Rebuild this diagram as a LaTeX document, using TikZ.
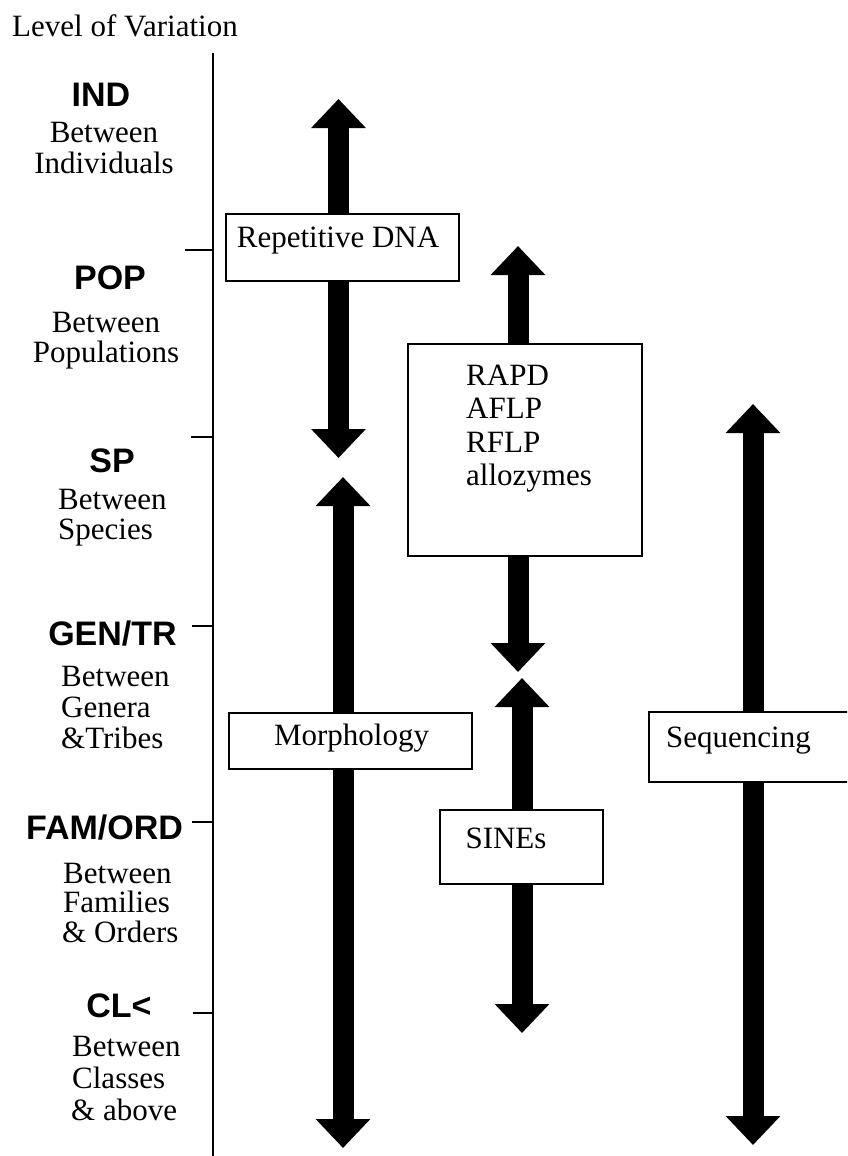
\documentclass[tikz,border=0pt]{standalone}
\usepackage{fontspec}
\setmainfont{Liberation Serif}
\newfontfamily\helv{Liberation Sans}
\usetikzlibrary{arrows.meta}
\tikzset{
  lab/.style={font=\fontsize{34}{34}\selectfont\helv\bfseries, inner sep=0pt, anchor=base},
  sub/.style={font=\fontsize{31}{31}\selectfont, inner sep=0pt, anchor=base west},
  subc/.style={font=\fontsize{31}{31}\selectfont, inner sep=0pt, anchor=base},
  box/.style={draw, line width=2pt, fill=white, inner sep=0pt, anchor=north west},
  boxtxt/.style={font=\fontsize{31}{31}\selectfont, inner sep=0pt, anchor=base},
  bigarrow/.style={line width=21pt, -{Triangle[width=53pt,length=29pt]}},
  axisline/.style={line width=2.5pt},
  tickline/.style={line width=2pt}
}
\begin{document}
\begin{tikzpicture}[x=1pt,y=-1pt]
\clip (0,0) rectangle (847,1156);
\fill[white] (0,0) rectangle (847,1156);

% title
\node[sub] (title) at (12,37) {Level of Variation};

% axis
\coordinate (axtop) at (213,53);
\coordinate (axbot) at (213,1160);
\draw[axisline] (axtop) -- (axbot);
\coordinate (tpop) at (185,250);
\coordinate (tsp) at (191,437);
\coordinate (tgen) at (192,626);
\coordinate (tfam) at (192,822);
\coordinate (tcl) at (193,1013);
\draw[tickline] (tpop) -- (tpop -| axtop);
\draw[tickline] (tsp) -- (tsp -| axtop);
\draw[tickline] (tgen) -- (tgen -| axtop);
\draw[tickline] (tfam) -- (tfam -| axtop);
\draw[tickline] (tcl) -- (tcl -| axtop);

% level labels
\node[lab] (ind) at (101,106) {IND};
\node[subc] (ind1) at (104,142) {Between};
\node[subc] (ind2) at (104,173) {Individuals};

\node[lab] (pop) at (110,289) {POP};
\node[subc] (pop1) at (106,332) {Between};
\node[subc] (pop2) at (106,362) {Populations};

\node[lab] (sp) at (112,472) {SP};
\node[sub] (sp1) at (58,509) {Between};
\node[sub] (sp2) at (58,539) {Species};

\node[lab] (gen) at (112.5,645) {GEN/TR};
\node[sub] (gen1) at (61,686) {Between};
\node[sub] (gen2) at (61,717) {Genera};
\node[sub] (gen3) at (61,748) {\&Tribes};

\node[lab] (fam) at (104.5,839) {FAM/ORD};
\node[sub] (fam1) at (63,883) {Between};
\node[sub] (fam2) at (63,912) {Families};
\node[sub] (fam3) at (62,942) {\& Orders};

\node[lab] (cl) at (119,1017) {CL<};
\node[sub] (cl1) at (72,1056) {Between};
\node[sub] (cl2) at (72,1088) {Classes};
\node[sub] (cl3) at (71,1120) {\& above};

% boxes
\node[box, minimum width=233pt, minimum height=67pt] (rep) at (225,213) {};
\node[box, minimum width=234pt, minimum height=212pt] (rapd) at (407,343) {};
\node[box, minimum width=243pt, minimum height=56pt] (morph) at (228,712) {};
\node[box, minimum width=163pt, minimum height=74pt] (sines) at (439,809) {};
\node[box, minimum width=220pt, minimum height=70pt] (seq) at (648,711) {};

% arrow tips
\coordinate (a1t) at (338.5,99);
\coordinate (a1b) at (338.5,458);
\coordinate (a2t) at (343,477);
\coordinate (a2b) at (343,1148);
\coordinate (a3t) at (518,246);
\coordinate (a3b) at (518,672);
\coordinate (a4t) at (522,678);
\coordinate (a4b) at (522,1033);
\coordinate (a5t) at (753,404);
\coordinate (a5b) at (753,1145);

\draw[bigarrow] (rep.north -| a1t) -- (a1t);
\draw[bigarrow] (rep.south -| a1b) -- (a1b);
\draw[bigarrow] (morph.north -| a2t) -- (a2t);
\draw[bigarrow] (morph.south -| a2b) -- (a2b);
\draw[bigarrow] (rapd.north -| a3t) -- (a3t);
\draw[bigarrow] (rapd.south -| a3b) -- (a3b);
\draw[bigarrow] (sines.north -| a4t) -- (a4t);
\draw[bigarrow] (sines.south -| a4b) -- (a4b);
\draw[bigarrow] (seq.north -| a5t) -- (a5t);
\draw[bigarrow] (seq.south -| a5b) -- (a5b);

% box texts
\node[boxtxt] (reptxt) at (338,247) {Repetitive DNA};
\node[sub] (rapd1) at (466,385) {RAPD};
\node[sub] (rapd2) at (466,418) {AFLP};
\node[sub] (rapd3) at (466,452) {RFLP};
\node[sub] (rapd4) at (466,485) {allozymes};
\node[boxtxt] (morphtxt) at (351.5,745) {Morphology};
\node[boxtxt] (sinestxt) at (506,848) {SINEs};
\node[boxtxt] (seqtxt) at (738.5,747) {Sequencing};
\end{tikzpicture}
\end{document}
